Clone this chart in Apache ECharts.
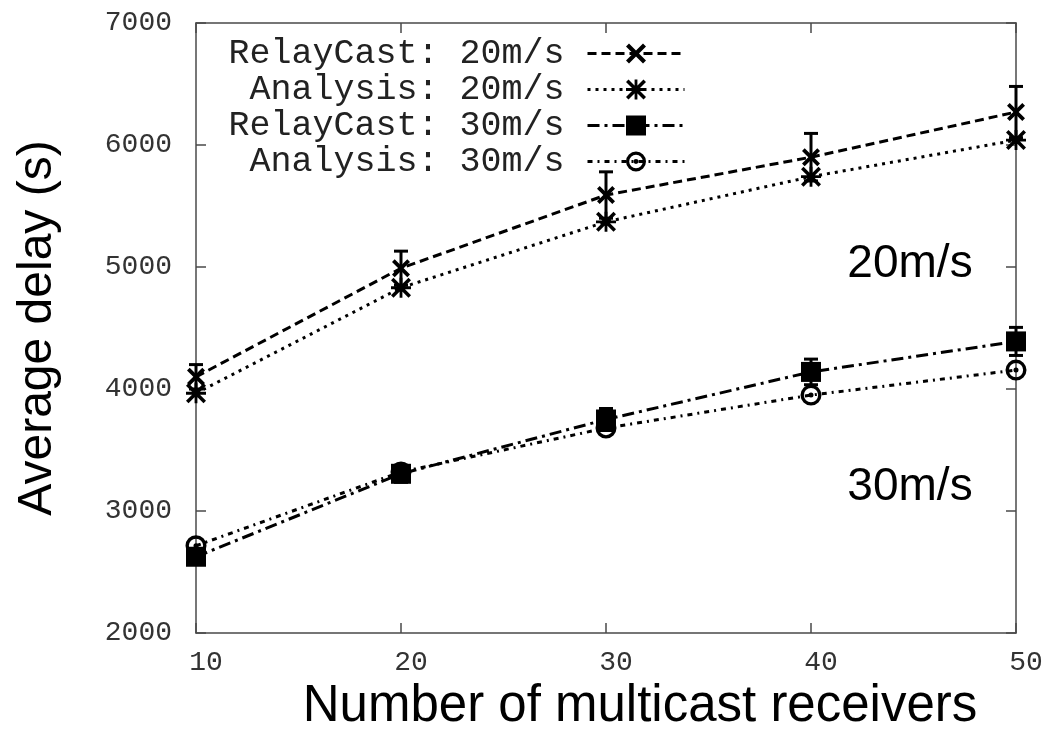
<!DOCTYPE html>
<html>
<head>
<meta charset="utf-8">
<script src="https://cdn.jsdelivr.net/npm/echarts@6/dist/echarts.min.js"></script>
<style>
  html, body { margin: 0; background: #fff; }
  #chart-wrapper { width: 1050px; height: 740px; }
</style>
</head>
<body>
<div id="chart-wrapper"></div>
<script>
const receivers = [10, 20, 30, 40, 50]
const relay20 = [4100, 4990, 5590, 5900, 6270]
const relay20Err = [100, 140, 190, 195, 210]
const analysis20 = [3965, 4830, 5370, 5740, 6040]
const relay30 = [2625, 3305, 3750, 4140, 4390]
const relay30Err = [60, 70, 90, 105, 115]
const analysis30 = [2715, 3320, 3680, 3950, 4155]
const seriesNames = ['RelayCast: 20m/s', 'Analysis: 20m/s', 'RelayCast: 30m/s', 'Analysis: 30m/s']
const speedLabels = ['20m/s', '30m/s']

// marker shapes
const crossPath = 'path://M0,3L3,0L10,7L17,0L20,3L13,10L20,17L17,20L10,13L3,20L0,17L7,10Z'
const starPath = 'path://M0,2.5L2.5,0L20,17.5L17.5,20Z M17.5,0L20,2.5L2.5,20L0,17.5Z M8.6,0H11.4V20H8.6Z M0,8.6H20V11.4H0Z'
const ringPath = 'path://M10,0A10,10 0 1,1 10,20A10,10 0 1,1 10,0Z M10,3.2A6.8,6.8 0 1,0 10,16.8A6.8,6.8 0 1,0 10,3.2Z M10,7.6A2.4,2.4 0 1,1 10,12.4A2.4,2.4 0 1,1 10,7.6Z'

const pairs = vals => receivers.map((x, i) => [x, vals[i]])
const bars = (vals, errs) => receivers.map((x, i) => [x, vals[i] - errs[i], vals[i] + errs[i]])

const black = '#000'
const axisGrey = '#4a4a4a'
const monoFont = "'Liberation Mono', 'DejaVu Sans Mono', monospace"
const sansFont = "'Liberation Sans', Arial, sans-serif"

const lineSeries = (name, vals, symbol, size, dash) => ({
  name,
  type: 'line',
  data: pairs(vals),
  symbol,
  symbolSize: size,
  showAllSymbol: true,
  z: 4,
  itemStyle: { color: black, opacity: 1 },
  lineStyle: { color: black, width: 3, type: dash },
  emphasis: { disabled: true },
  animation: false
})

const errorSeries = (vals, errs) => ({
  type: 'custom',
  data: bars(vals, errs),
  encode: { x: 0, y: [1, 2] },
  z: 3,
  silent: true,
  animation: false,
  renderItem: (params, api) => {
    const x = api.value(0)
    const lo = api.coord([x, api.value(1)])
    const hi = api.coord([x, api.value(2)])
    const w = 7
    const style = { stroke: black, lineWidth: 3 }
    return {
      type: 'group',
      children: [
        { type: 'line', shape: { x1: lo[0], y1: lo[1], x2: hi[0], y2: hi[1] }, style },
        { type: 'line', shape: { x1: hi[0] - w, y1: hi[1], x2: hi[0] + w, y2: hi[1] }, style },
        { type: 'line', shape: { x1: lo[0] - w, y1: lo[1], x2: lo[0] + w, y2: lo[1] }, style }
      ]
    }
  }
})

const mirrorAxis = {
  axisLine: { show: true, lineStyle: { color: axisGrey, width: 1.5 } },
  axisTick: { show: true, inside: true, length: 10, lineStyle: { color: axisGrey, width: 1.5 } },
  axisLabel: { show: false },
  splitLine: { show: false }
}

const chart = echarts.init(document.getElementById('chart-wrapper'), null, { renderer: 'canvas' })

const option = {
  backgroundColor: '#fff',
  animation: false,
  grid: { left: 196, right: 34, top: 23, bottom: 107, containLabel: false },
  legend: {
    data: seriesNames,
    orient: 'vertical',
    align: 'right',
    right: 359,
    top: 31,
    itemWidth: 97,
    itemHeight: 25,
    itemGap: 1,
    selectedMode: false,
    lineStyle: { width: 3 },
    textStyle: {
      fontFamily: monoFont,
      fontSize: 35,
      color: '#222',
      padding: [0, 18, 0, 0]
    }
  },
  xAxis: [
    {
      type: 'value',
      min: 10,
      max: 50,
      interval: 10,
      name: 'Number of multicast receivers',
      nameLocation: 'middle',
      nameGap: 42,
      nameTextStyle: { fontFamily: sansFont, fontSize: 51, color: '#000', padding: [0, 0, 0, 68] },
      axisLine: { show: true, lineStyle: { color: axisGrey, width: 1.5 } },
      axisTick: { show: true, inside: true, length: 10, lineStyle: { color: axisGrey, width: 1.5 } },
      axisLabel: { fontFamily: monoFont, fontSize: 28, color: '#333', margin: 16, padding: [0, 0, 0, 20] },
      splitLine: { show: false }
    },
    Object.assign({ type: 'value', min: 10, max: 50, interval: 10, position: 'top' }, mirrorAxis)
  ],
  yAxis: [
    {
      type: 'value',
      min: 2000,
      max: 7000,
      interval: 1000,
      name: 'Average delay (s)',
      nameLocation: 'middle',
      nameGap: 134,
      nameRotate: 90,
      nameTextStyle: { fontFamily: sansFont, fontSize: 48, color: '#000' },
      axisLine: { show: true, lineStyle: { color: axisGrey, width: 1.5 } },
      axisTick: { show: true, inside: true, length: 10, lineStyle: { color: axisGrey, width: 1.5 } },
      axisLabel: { fontFamily: monoFont, fontSize: 28, color: '#333', margin: 24, formatter: v => String(v) },
      splitLine: { show: false }
    },
    Object.assign({ type: 'value', min: 2000, max: 7000, interval: 1000, position: 'right' }, mirrorAxis)
  ],
  graphic: [
    { type: 'text', x: 910, y: 264, style: { text: speedLabels[0], fontFamily: sansFont, fontSize: 46, fill: '#000', align: 'center', verticalAlign: 'middle' } },
    { type: 'text', x: 910, y: 487, style: { text: speedLabels[1], fontFamily: sansFont, fontSize: 46, fill: '#000', align: 'center', verticalAlign: 'middle' } }
  ],
  series: [
    errorSeries(relay20, relay20Err),
    errorSeries(relay30, relay30Err),
    lineSeries(seriesNames[0], relay20, crossPath, 18, [9, 5]),
    lineSeries(seriesNames[1], analysis20, starPath, 20, [3, 5]),
    lineSeries(seriesNames[2], relay30, 'rect', 20, [12, 5, 3, 5]),
    lineSeries(seriesNames[3], analysis30, ringPath, 21, [5, 5, 2, 5])
  ]
}

chart.setOption(option)
</script>
</body>
</html>
